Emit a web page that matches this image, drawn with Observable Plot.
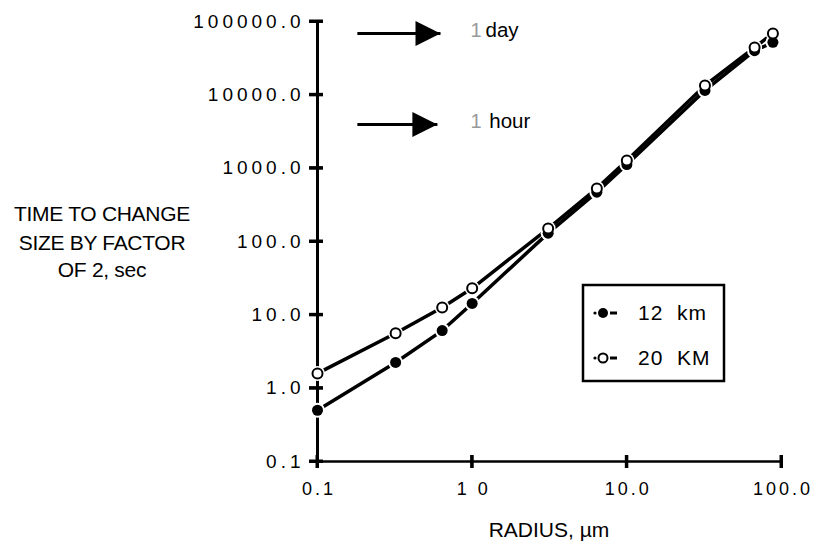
<!DOCTYPE html>
<html>
<head>
<meta charset="utf-8">
<script src="https://cdn.jsdelivr.net/npm/d3@7"></script>
<script src="https://cdn.jsdelivr.net/npm/@observablehq/plot@0.6"></script>
<style>
  html, body { margin: 0; padding: 0; background: #fff; }
  #wrap { position: relative; width: 823px; height: 548px; font-family: "Liberation Sans", Arial, Helvetica, sans-serif; background: #fff; }
  #wrap > svg { position: absolute; left: 0; top: 0; }
  g[aria-description="ytick"] text { letter-spacing: 4px; }
  g[aria-description="xtick"] text { letter-spacing: 3px; }
  #overlay, #ticks { pointer-events: none; }
  #overlay text { font-family: "Liberation Sans", Arial, Helvetica, sans-serif; fill: #000; }
</style>
</head>
<body>
<div id="wrap"></div>
<script>
// ---- data ----
const radius12 = [0.1, 0.32, 0.64, 1.0, 3.1, 6.4, 10, 32, 67, 88];
const time12   = [0.50, 2.24, 6.1, 14.3, 130, 470, 1120, 11500, 40000, 52000];
const radius20 = [0.1, 0.32, 0.64, 1.0, 3.1, 6.4, 10, 32, 67, 88];
const time20   = [1.59, 5.6, 12.6, 23, 150, 530, 1270, 13400, 44200, 68700];

const xTicks = [0.1, 1, 10, 100];
const xTickLabels = ["0.1", "1 0", "10.0", "100.0"];
const yTicks = [0.1, 1, 10, 100, 1000, 10000, 100000];
const yTickLabels = ["0.1", "1.0", "10.0", "100.0", "1000.0", "10000.0", "100000.0"];

const arrowValues = [68700, 3940];
const arrowStart  = [0.181, 0.181];
const arrowTip    = [0.624, 0.596];
const arrowNums   = ["1", "1"];
const arrowUnits  = ["day", "hour"];
const arrowTextX  = [0.975, 0.975];
const arrowUnitX  = [1.22, 1.29];

const seriesNames = ["12  km", "20  KM"];
const yTitle = ["TIME TO CHANGE", "SIZE BY FACTOR", "OF 2, sec"];
const xTitle = "RADIUS, \u00b5m";

// ---- build tables ----
const s12 = radius12.map((r, i) => ({r, t: time12[i]}));
const s20 = radius20.map((r, i) => ({r, t: time20[i]}));
const arrows = arrowValues.map((v, i) => ({v, x1: arrowStart[i], x2: arrowTip[i], num: arrowNums[i], unit: arrowUnits[i], nx: arrowTextX[i], ux: arrowUnitX[i]}));
const xMin = xTicks[0], yMin = yTicks[0];

const head = {draw(ctx) { ctx.moveTo(0, 0); ctx.lineTo(-25, -12.5); ctx.lineTo(-25, 12.5); ctx.closePath(); }};

const wrap = document.getElementById("wrap");

// ---- overlay (underneath the plot): axis titles and legend, as real text ----
const ov = d3.select(wrap).append("svg").attr("id", "overlay").attr("width", 823).attr("height", 548);
const titleBaselines = [221, 250, 277];
yTitle.forEach((t, i) => {
  ov.append("text").attr("x", 102).attr("y", titleBaselines[i]).attr("text-anchor", "middle")
    .attr("font-size", 21).attr("letter-spacing", -0.3).text(t);
});
ov.append("text").attr("x", 549).attr("y", 537).attr("text-anchor", "middle").attr("font-size", 21).text(xTitle);
ov.append("rect").attr("x", 583).attr("y", 285).attr("width", 141).attr("height", 96)
  .attr("fill", "#fff").attr("stroke", "#000").attr("stroke-width", 2.5);
const rowY = [313, 358];
seriesNames.forEach((name, i) => {
  const y = rowY[i];
  ov.append("circle").attr("cx", 595).attr("cy", y).attr("r", 1.6).attr("fill", "#000");
  ov.append("line").attr("x1", 610).attr("x2", 617).attr("y1", y).attr("y2", y).attr("stroke", "#000").attr("stroke-width", 3);
  if (i === 0) {
    ov.append("circle").attr("cx", 603).attr("cy", y).attr("r", 5).attr("fill", "#000");
  } else {
    ov.append("circle").attr("cx", 603).attr("cy", y).attr("r", 4.5).attr("fill", "#fff").attr("stroke", "#000").attr("stroke-width", 2);
  }
  ov.append("text").attr("x", 638).attr("y", y + 7).attr("font-size", 21).attr("letter-spacing", 1)
    .attr("xml:space", "preserve").style("white-space", "pre").text(name);
});

const lineW = 3.5;
const chart = Plot.plot({
  width: 823,
  height: 548,
  marginLeft: 317,
  marginRight: 42,
  marginTop: 21,
  marginBottom: 87,
  style: {fontFamily: '"Liberation Sans", Arial, Helvetica, sans-serif', background: "transparent", color: "#000"},
  x: {type: "log", domain: [0.1, 100], axis: null},
  y: {type: "log", domain: [0.1, 100000], axis: null},
  marks: [
    // axes lines
    Plot.ruleX([xMin], {stroke: "#000", strokeWidth: 3}),
    Plot.ruleY([yMin], {stroke: "#000", strokeWidth: 2.5}),
    // tick labels
    Plot.text(yTicks, {x: () => xMin, y: d => d, text: (d, i) => yTickLabels[i], textAnchor: "end", dx: -13, fontSize: 19, fill: "#000", ariaDescription: "ytick"}),
    Plot.text(xTicks, {x: d => d, y: () => yMin, text: (d, i) => xTickLabels[i], textAnchor: "middle", dx: 1.5, dy: 28, fontSize: 18, fill: "#000", ariaDescription: "xtick"}),
    // arrows
    Plot.link(arrows, {x1: "x1", x2: "x2", y1: "v", y2: "v", stroke: "#000", strokeWidth: 3}),
    Plot.dot(arrows, {x: "x2", y: "v", symbol: head, fill: "#000", stroke: "none"}),
    Plot.text(arrows, {x: "nx", y: "v", text: "num", fill: "#999", fontSize: 20, textAnchor: "start", dy: -3}),
    Plot.text(arrows, {x: "ux", y: "v", text: "unit", fill: "#000", fontSize: 20.5, textAnchor: "start", dy: -3}),
    // series lines
    Plot.line(s12, {x: "r", y: "t", stroke: "#000", strokeWidth: lineW}),
    Plot.line(s20, {x: "r", y: "t", stroke: "#000", strokeWidth: lineW}),
    // white halos around markers
    Plot.dot(s12, {x: "r", y: "t", r: 7.5, fill: "#fff", stroke: "none"}),
    Plot.dot(s20, {x: "r", y: "t", r: 7.5, fill: "#fff", stroke: "none"}),
    // markers
    Plot.dot(s12, {x: "r", y: "t", r: 5.5, fill: "#000", stroke: "none"}),
    Plot.dot(s20, {x: "r", y: "t", r: 5, fill: "#fff", stroke: "#000", strokeWidth: 2}),
    // tick marks crossing the axes
    Plot.ruleY(yTicks, {y: d => d, x1: () => xMin, x2: () => xMin, insetLeft: -8, insetRight: -6, stroke: "#000", strokeWidth: 3}),
    Plot.ruleX(xTicks, {x: d => d, y1: () => yMin, y2: () => yMin, insetTop: -6, insetBottom: -7, stroke: "#000", strokeWidth: 3})
  ]
});
wrap.appendChild(chart);

// ---- tick marks again, on top, positioned with the plot's own scales ----
const sx = chart.scale("x"), sy = chart.scale("y");
const tk = d3.select(wrap).append("svg").attr("id", "ticks").attr("width", 823).attr("height", 548);
const axisX0 = sx.apply(xMin), axisY0 = sy.apply(yMin);
tk.selectAll("line.yt").data(yTicks).join("line").attr("class", "yt")
  .attr("x1", axisX0 - 8).attr("x2", axisX0 + 6)
  .attr("y1", d => sy.apply(d)).attr("y2", d => sy.apply(d))
  .attr("stroke", "#000").attr("stroke-width", 3);
tk.selectAll("line.xt").data(xTicks).join("line").attr("class", "xt")
  .attr("x1", d => sx.apply(d)).attr("x2", d => sx.apply(d))
  .attr("y1", axisY0 - 6).attr("y2", axisY0 + 7)
  .attr("stroke", "#000").attr("stroke-width", 3);
</script>
</body>
</html>
